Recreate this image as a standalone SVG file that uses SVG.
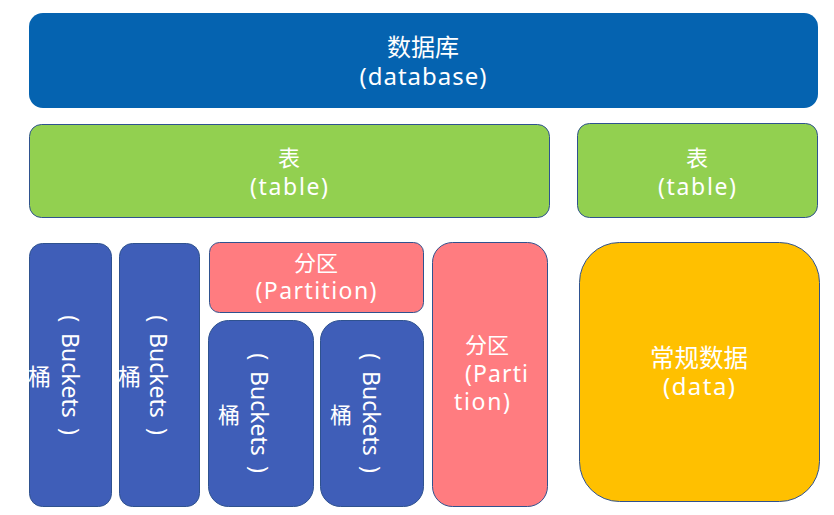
<svg xmlns="http://www.w3.org/2000/svg" width="834" height="515" viewBox="0 0 834 515">
<style>
.box{stroke:#2F528F;stroke-width:1}
.t{font-family:"Noto Sans","Noto Sans CJK SC",sans-serif;fill:#fff}
.c{font-family:"Noto Sans CJK SC",sans-serif;fill:#fff}
.v{font-family:"Noto Sans",sans-serif;fill:#fff;font-size:23px}
</style>
<rect width="834" height="515" fill="#fff"/>
<g id="database">
<rect x="29" y="13" width="789" height="95" rx="14" fill="#0563B0"/>
<text class="c" x="423" y="56" font-size="24" text-anchor="middle">数据库</text>
<text class="t" x="423" y="85" font-size="24" text-anchor="middle" textLength="127" lengthAdjust="spacing">(database)</text>
</g>
<g id="table1">
<rect class="box" x="29.5" y="124.5" width="520" height="93" rx="12" fill="#92D050"/>
<text class="c" x="289" y="166" font-size="22" text-anchor="middle">表</text>
<text class="t" x="289" y="195" font-size="23" text-anchor="middle" textLength="78" lengthAdjust="spacing">(table)</text>
</g>
<g id="table2">
<rect class="box" x="577.5" y="123.5" width="240" height="94" rx="12" fill="#92D050"/>
<text class="c" x="697" y="166" font-size="22" text-anchor="middle">表</text>
<text class="t" x="697" y="195" font-size="23" text-anchor="middle" textLength="78" lengthAdjust="spacing">(table)</text>
</g>
<g id="data">
<rect class="box" x="579.5" y="242.5" width="240" height="259" rx="40" fill="#FFC000"/>
<text class="c" x="699" y="367" font-size="24.5" text-anchor="middle">常规数据</text>
<text class="t" x="699" y="395" font-size="24" text-anchor="middle" textLength="72" lengthAdjust="spacing">(data)</text>
</g>
<g id="bucket1">
<rect class="box" x="29.5" y="243.5" width="82" height="263" rx="13" fill="#3F5EB8"/>
<text class="c" x="28" y="385" font-size="23">桶</text>
<text class="v" text-anchor="middle" transform="translate(62 375) rotate(90)">(<tspan dx="11">Buckets</tspan><tspan dx="10">)</tspan></text>
</g>
<g id="bucket2">
<rect class="box" x="119.5" y="243.5" width="80" height="263" rx="13" fill="#3F5EB8"/>
<text class="c" x="118" y="385" font-size="23">桶</text>
<text class="v" text-anchor="middle" transform="translate(150 375) rotate(90)">(<tspan dx="11">Buckets</tspan><tspan dx="10">)</tspan></text>
</g>
<g id="partition1">
<rect class="box" x="209.5" y="242.5" width="214" height="70" rx="10" fill="#FF7C80"/>
<text class="c" x="316" y="271" font-size="22" text-anchor="middle">分区</text>
<text class="t" x="316" y="299" font-size="23" text-anchor="middle" textLength="121" lengthAdjust="spacing">(Partition)</text>
</g>
<g id="bucket3">
<rect class="box" x="208.5" y="320.5" width="105" height="186" rx="20" fill="#3F5EB8"/>
<text class="c" x="218" y="423" font-size="22">桶</text>
<text class="v" text-anchor="middle" transform="translate(251 413) rotate(90)">(<tspan dx="11">Buckets</tspan><tspan dx="10">)</tspan></text>
</g>
<g id="bucket4">
<rect class="box" x="320.5" y="320.5" width="103" height="186" rx="20" fill="#3F5EB8"/>
<text class="c" x="330" y="423" font-size="22">桶</text>
<text class="v" text-anchor="middle" transform="translate(363 413) rotate(90)">(<tspan dx="11">Buckets</tspan><tspan dx="10">)</tspan></text>
</g>
<g id="partition2">
<rect class="box" x="432.5" y="242.5" width="115" height="264" rx="20" fill="#FF7C80"/>
<text class="c" x="465" y="353" font-size="22">分区</text>
<text class="t" x="465" y="382" font-size="23" textLength="63" lengthAdjust="spacing">(Parti</text>
<text class="t" x="454" y="410" font-size="23" textLength="56" lengthAdjust="spacing">tion)</text>
</g>
<g id="connectors"/>
</svg>
